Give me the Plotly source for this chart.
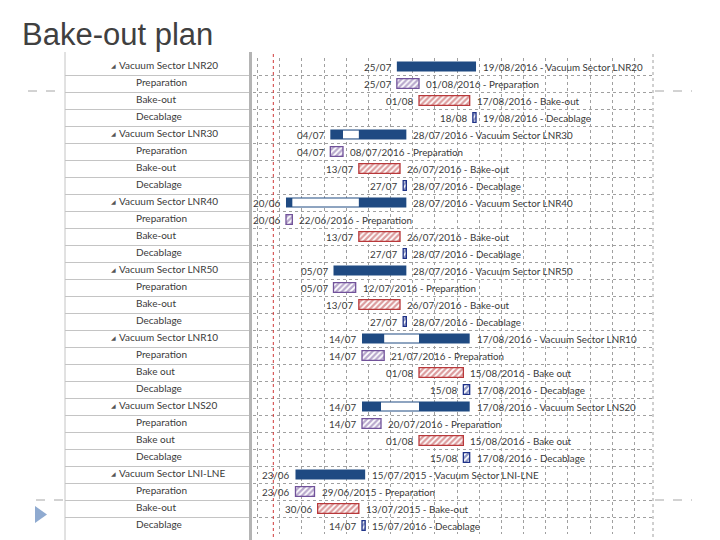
import plotly.graph_objects as go
import pandas as pd

# ---------------- data ----------------
sectors = ["Vacuum Sector LNR20", "Vacuum Sector LNR30", "Vacuum Sector LNR40",
           "Vacuum Sector LNR50", "Vacuum Sector LNR10", "Vacuum Sector LNS20",
           "Vacuum Sector LNI-LNE"]
sector_start = ["2016-07-25", "2016-07-04", "2016-06-20", "2016-07-05", "2016-07-14", "2016-07-14", "2016-06-23"]
sector_end = ["2016-08-19", "2016-07-28", "2016-07-28", "2016-07-28", "2016-08-17", "2016-08-17", "2016-07-15"]
prep_start = ["2016-07-25", "2016-07-04", "2016-06-20", "2016-07-05", "2016-07-14", "2016-07-14", "2016-06-23"]
prep_end = ["2016-08-01", "2016-07-08", "2016-06-22", "2016-07-12", "2016-07-21", "2016-07-20", "2016-06-29"]
bake_start = ["2016-08-01", "2016-07-13", "2016-07-13", "2016-07-13", "2016-08-01", "2016-08-01", "2016-06-30"]
bake_end = ["2016-08-17", "2016-07-26", "2016-07-26", "2016-07-26", "2016-08-15", "2016-08-15", "2016-07-13"]
decab_start = ["2016-08-18", "2016-07-27", "2016-07-27", "2016-07-27", "2016-08-15", "2016-08-15", "2016-07-14"]
decab_end = ["2016-08-19", "2016-07-28", "2016-07-28", "2016-07-28", "2016-08-17", "2016-08-17", "2016-07-15"]
bake_names = ["Bake-out", "Bake-out", "Bake-out", "Bake-out", "Bake out", "Bake out", "Bake-out"]
# year printed in each finish label (the LNI-LNE rows show 2015 in the picture)
end_label_year = [2016] * 24 + [2015, 2015, 2015, 2016]
status_date = "2016-06-16"
title_text = "Bake-out plan"

# ---------------- build task table ----------------
rows = []
for i, s in enumerate(sectors):
    rows.append(dict(name=s, kind="summary", start=sector_start[i], end=sector_end[i],
                     gap0=prep_end[i], gap1=bake_start[i]))
    rows.append(dict(name="Preparation", kind="prep", start=prep_start[i], end=prep_end[i]))
    rows.append(dict(name=bake_names[i], kind="bake", start=bake_start[i], end=bake_end[i]))
    rows.append(dict(name="Decablage", kind="decab", start=decab_start[i], end=decab_end[i]))
df = pd.DataFrame(rows)
df["row"] = range(len(df))
df["s"] = pd.to_datetime(df["start"])
df["e"] = pd.to_datetime(df["end"])
df["dur"] = (df["e"] - df["s"]).dt.total_seconds() * 1000
df["yr"] = end_label_year

NAVY = "#1f4a82"
PURPLE = "#71529a"
RED = "#b8383a"
BLUE = "#1f3288"
TXT = "#3a3a3a"
FONT = "Lato"

fig = go.Figure()

summ = df[df.kind == "summary"]
fig.add_trace(go.Bar(orientation="h", y=summ.row, base=summ.start, x=summ.dur, width=0.6,
                     marker=dict(color=NAVY, line=dict(width=0)), hoverinfo="skip",
                     xaxis="x", yaxis="y"))
# white gaps inside summary bars (between end of preparation and start of bake-out)
g0 = pd.to_datetime(summ.gap0)
g1 = pd.to_datetime(summ.gap1)
gmask = (g1 - g0).dt.days > 1
fig.add_trace(go.Bar(orientation="h", y=summ.row[gmask], base=summ.gap0[gmask],
                     x=((g1 - g0).dt.total_seconds() * 1000)[gmask], width=0.46,
                     marker=dict(color="white", line=dict(width=0)), hoverinfo="skip"))

styles = {"prep": PURPLE, "bake": RED, "decab": BLUE}
for kind, col in styles.items():
    d = df[df.kind == kind]
    fig.add_trace(go.Bar(orientation="h", y=d.row, base=d.start, x=d.dur, width=0.58,
                         marker=dict(color="white", line=dict(color=col, width=1.3),
                                     pattern=dict(shape="/", fgcolor=col, bgcolor="white",
                                                  size=4, solidity=0.55, fillmode="overlay")),
                         hoverinfo="skip"))

annotations = []
for _, r in df.iterrows():
    annotations.append(dict(x=r["start"], y=r["row"], xref="x", yref="y",
                            text=r["s"].strftime("%d/%m"), showarrow=False,
                            xanchor="right", xshift=-4, font=dict(family=FONT, size=9.8, color=TXT)))
    annotations.append(dict(x=r["end"], y=r["row"], xref="x", yref="y",
                            text=r["e"].strftime("%d/%m/") + str(r["yr"]) + " - " + r["name"],
                            showarrow=False, xanchor="left", xshift=5,
                            font=dict(family=FONT, size=9.8, color=TXT)))

# table (left) text
is_sum = df.kind == "summary"
fig.add_trace(go.Scatter(x=[46] * int(is_sum.sum()), y=df.row[is_sum], mode="text",
                         text=["◢"] * int(is_sum.sum()), textposition="middle right",
                         textfont=dict(family="DejaVu Sans", size=6, color="#555"),
                         xaxis="x2", yaxis="y2", hoverinfo="skip"))
fig.add_trace(go.Scatter(x=[54] * int(is_sum.sum()), y=df.row[is_sum], mode="text",
                         text=df.name[is_sum], textposition="middle right",
                         textfont=dict(family=FONT, size=10, color=TXT),
                         xaxis="x2", yaxis="y2", hoverinfo="skip"))
fig.add_trace(go.Scatter(x=[71] * int((~is_sum).sum()), y=df.row[~is_sum], mode="text",
                         text=df.name[~is_sum], textposition="middle right",
                         textfont=dict(family=FONT, size=10, color=TXT),
                         xaxis="x2", yaxis="y2", hoverinfo="skip"))

W, H = 720, 540
top, bot = 58, 534
ydom = [1 - bot / H, 1 - top / H]
nrows = len(df)

fig.update_layout(
    width=W, height=H, margin=dict(l=0, r=0, t=0, b=0),
    paper_bgcolor="white", plot_bgcolor="white", showlegend=False, barmode="overlay",
    xaxis=dict(type="date", domain=[253 / W, 653 / W],
               range=["2016-06-09 14:00", "2016-10-13 21:00"],
               tick0="2016-06-18", dtick=7 * 86400000, showgrid=True, griddash="dot",
               gridcolor="#a0a0a0", gridwidth=1, showticklabels=False, ticks="",
               zeroline=False, showline=False, anchor="y", fixedrange=True),
    yaxis=dict(domain=ydom, range=[nrows - 0.5, -0.5], tickmode="linear", tick0=-0.5, dtick=1,
               showgrid=True, griddash="dot", gridcolor="#a0a0a0", showticklabels=False,
               ticks="", zeroline=False, showline=False, anchor="x"),
    xaxis2=dict(domain=[65 / W, 250 / W], range=[0, 185], showgrid=False, zeroline=False,
                showticklabels=False, ticks="", showline=False, anchor="y2"),
    yaxis2=dict(domain=ydom, range=[nrows - 0.5, -0.5], tickmode="linear", tick0=-0.5, dtick=1,
                showgrid=True, gridcolor="#c4c4c4", showticklabels=False, ticks="",
                zeroline=False, showline=False, anchor="x2"),
    annotations=annotations + [
        dict(x=20 / W, y=1 - 34 / H, xref="paper", yref="paper", text=title_text,
             showarrow=False, xanchor="left", yanchor="middle",
             font=dict(family="Liberation Sans", size=31, color="#404040"))
    ],
)

shapes = [
    # status line
    dict(type="line", xref="x", yref="paper", x0=status_date, x1=status_date,
         y0=1 - 537 / H, y1=1 - 52 / H, line=dict(color="#d03a3a", width=1, dash="dot")),
    # gantt right border
    dict(type="line", xref="paper", yref="paper", x0=653 / W, x1=653 / W,
         y0=1 - 537 / H, y1=1 - 52 / H, line=dict(color="#a0a0a0", width=1, dash="dot")),
    # table borders
    dict(type="line", xref="paper", yref="paper", x0=65 / W, x1=65 / W,
         y0=0, y1=1 - 52 / H, line=dict(color="#c4c4c4", width=1)),
    dict(type="line", xref="paper", yref="paper", x0=250.5 / W, x1=250.5 / W,
         y0=0, y1=1 - 52 / H, line=dict(color="#b4b4b4", width=3)),
    # slide decorations
    dict(type="line", xref="paper", yref="paper", x0=28 / W, x1=64 / W, y0=1 - 91 / H, y1=1 - 91 / H,
         line=dict(color="#a6a6a6", width=1, dash="dash")),
    dict(type="line", xref="paper", yref="paper", x0=655 / W, x1=692 / W, y0=1 - 91 / H, y1=1 - 91 / H,
         line=dict(color="#a6a6a6", width=1, dash="dash")),
    dict(type="line", xref="paper", yref="paper", x0=36 / W, x1=64 / W, y0=1 - 500 / H, y1=1 - 500 / H,
         line=dict(color="#a6a6a6", width=1, dash="dash")),
    dict(type="line", xref="paper", yref="paper", x0=655 / W, x1=692 / W, y0=1 - 500 / H, y1=1 - 500 / H,
         line=dict(color="#a6a6a6", width=1, dash="dash")),
    dict(type="path", xref="paper", yref="paper",
         path=f"M {35 / W} {1 - 506 / H} L {35 / W} {1 - 523 / H} L {47 / W} {1 - 514.5 / H} Z",
         fillcolor="#8faad0", line=dict(width=0)),
]
fig.update_layout(shapes=shapes)

fig.write_html("out.html", config={"displayModeBar": False},
               post_script="document.body.style.margin='0px';document.body.style.overflow='hidden';")
